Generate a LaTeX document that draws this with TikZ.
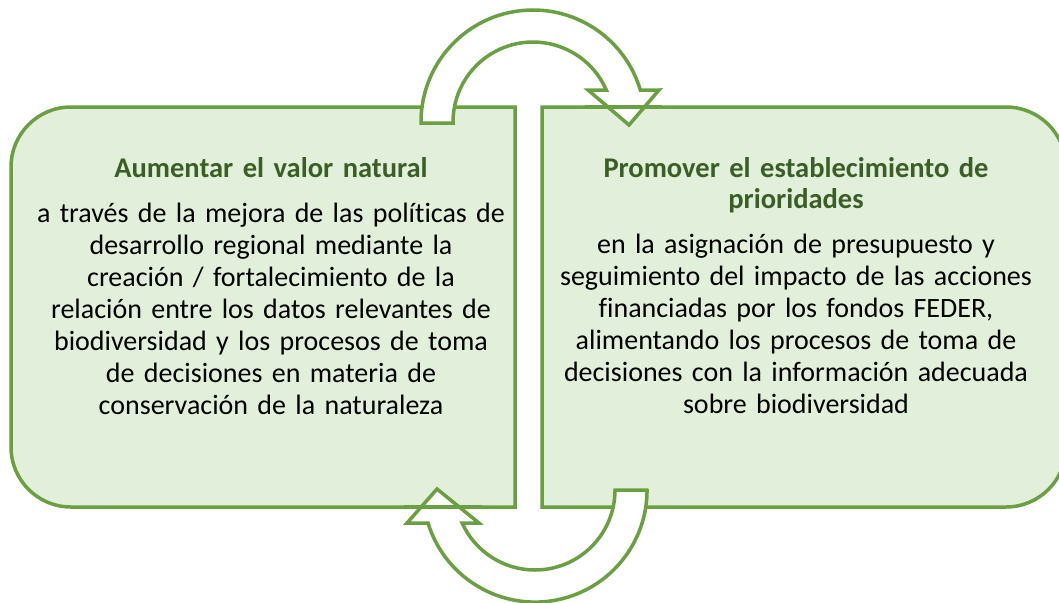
\documentclass[tikz,border=0pt]{standalone}
\usepackage{fontspec}
\setmainfont{Carlito}[Ligatures=NoCommon]
\definecolor{leafline}{HTML}{6A9F42}
\definecolor{leaffill}{HTML}{E2EFDA}
\definecolor{leaftitle}{HTML}{3A5E25}
\tikzset{
  panel/.style={fill=leaffill, draw=leafline, line width=3.5pt},
  cyclearrow/.style={fill=white, draw=leafline, line width=3.5pt, line join=miter},
  headtext/.style={text width=480pt, align=center, inner sep=0pt, anchor=base,
    text=leaftitle, font=\fontsize{28.5}{31}\selectfont\bfseries},
  bodytext/.style={text width=510pt, align=center, inner sep=0pt, anchor=base,
    font=\fontsize{28}{32}\selectfont}
}
\begin{document}
\begin{tikzpicture}[x=1pt, y=1pt]
      \useasboundingbox (0,0) rectangle (1059,-602);
      \clip (0,0) rectangle (1059,-602);
      % the two panels
      \draw[panel] (515,-107) [rounded corners=60pt] -- (11,-107) -- (11,-507)
        [sharp corners] -- (515,-507) -- cycle;
      \draw[panel] (542,-507) [rounded corners=60pt] -- (1066,-507) -- (1066,-107)
        [sharp corners] -- (542,-107) -- cycle;
      % top arrow, left to right
      \draw[cyclearrow] (421,-123) -- (421,-122) arc[start angle=180, end angle=16.6, radius=112]
        -- (659,-90) -- (629,-125) -- (588,-90) -- (606.3,-90)
        arc[start angle=23.6, end angle=180, radius=80] -- (453,-123) -- cycle;
      % bottom arrow, right to left
      \draw[cyclearrow] (647,-490) -- (615,-490) arc[start angle=0, end angle=-155.6, radius=80]
        -- (479,-523) -- (437,-489) -- (407,-523) -- (428,-523)
        arc[start angle=-162.9, end angle=0, radius=112] -- cycle;
      \begin{scope}[draw=leafline, line width=3.5pt]
        \draw (585,-107) -- (662,-107);
        \draw (404,-507) -- (482,-507);
      \end{scope}
      % texts
      \node[headtext] (lefthead) at (271,-177) {Aumentar el valor natural};
      \node[bodytext] (leftbody) at (271,-222) {a través de la mejora de las políticas de\\
        desarrollo regional mediante la\\
        creación / fortalecimiento de la\\
        relación entre los datos relevantes de\\
        biodiversidad y los procesos de toma\\
        de decisiones en materia de\\
        conservación de la naturaleza};
      \node[headtext] (righthead) at (796,-177) {Promover el establecimiento de\\
        prioridades};
      \node[bodytext] (rightbody) at (796,-253) {en la asignación de presupuesto y\\
        seguimiento del impacto de las acciones\\
        financiadas por los fondos FEDER,\\
        alimentando los procesos de toma de\\
        decisiones con la información adecuada\\
        sobre biodiversidad};
    \end{tikzpicture}
\end{document}
